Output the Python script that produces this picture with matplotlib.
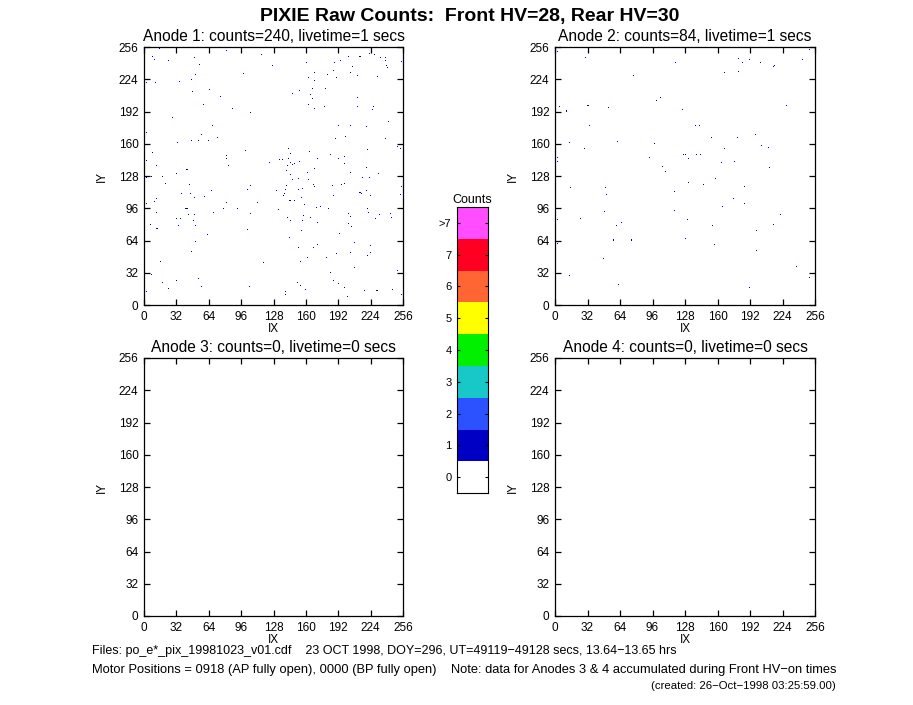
import numpy as np
import matplotlib
matplotlib.use('Agg')
import matplotlib.pyplot as plt
from matplotlib.colors import ListedColormap, BoundaryNorm

plt.rcParams['font.family'] = ['Liberation Sans', 'DejaVu Sans']

# pixel hits (IX, IY), one entry per count
anode1_ix = [
    15, 8, 10, 24, 49, 54, 81, 116, 127, 160, 188, 194, 202, 213, 222, 227, 233, 238, 238, 239,
    240, 254, 206, 204, 187, 181, 168, 211, 50, 98, 230, 2, 11, 35, 46, 162, 168, 190, 47, 64,
    166, 153, 146, 179, 164, 166, 211, 75, 58, 162, 168, 178, 211, 226, 225, 87, 105, 28, 241, 67,
    192, 204, 219, 2, 56, 199, 189, 238, 33, 46, 53, 63, 72, 250, 253, 100, 220, 142, 163, 8,
    144, 184, 81, 198, 81, 142, 171, 192, 133, 136, 2, 124, 144, 153, 148, 146, 141, 12, 83, 198,
    219, 168,
    2, 7, 18, 32, 42, 140, 144, 146, 152, 161, 162, 204, 215, 222, 231, 254, 21, 44, 105, 102,
    140, 139, 167, 168, 186, 195, 198, 66, 130, 138, 137, 152, 156, 213, 214, 219, 37, 45, 187, 223,
    254, 253, 2, 10, 12, 49, 59, 143, 144, 148, 155, 158, 81, 112, 41, 42, 78, 92, 170, 174,
    182, 220, 132, 12, 68, 105, 221, 43, 49, 157, 202, 204, 232, 243, 244, 32, 36, 141, 164, 144,
    48, 156, 171, 202, 228, 6, 34, 50, 205, 12, 13, 102, 155, 62, 193, 143, 50, 208, 152, 167,
    171, 223, 46, 204, 223, 190, 220, 161, 180, 16, 118, 154, 208, 250, 7, 184, 53, 187, 18, 32,
    151, 192, 154, 56, 104, 198, 24, 159, 245, 217, 229, 230, 2, 139, 139, 254, 201,
]
anode1_iy = [
    254, 246, 243, 242, 245, 238, 252, 248, 237, 240, 240, 242, 246, 246, 249, 248, 245, 245, 242, 237,
    235, 241, 236, 230, 232, 228, 230, 227, 228, 229, 226, 220, 220, 221, 223, 225, 222, 225, 211, 213,
    214, 212, 209, 214, 208, 204, 205, 206, 198, 198, 194, 196, 196, 196, 193, 194, 191, 186, 182, 178,
    178, 178, 177, 171, 169, 167, 165, 165, 161, 163, 163, 163, 166, 157, 155, 153, 154, 155, 152, 151,
    150, 149, 148, 147, 145, 145, 145, 145, 144, 144, 143, 141, 141, 142, 140, 139, 138, 138, 138, 140,
    136, 135,
    126, 127, 127, 130, 134, 133, 129, 124, 125, 131, 124, 131, 126, 126, 130, 127, 120, 119, 118, 114,
    118, 114, 119, 117, 118, 119, 120, 113, 113, 110, 108, 114, 115, 111, 110, 113, 110, 110, 108, 108,
    117, 109, 100, 102, 105, 106, 107, 103, 103, 103, 106, 99, 101, 101, 95, 95, 95, 95, 96, 97,
    95, 95, 94, 91, 91, 90, 91, 89, 89, 88, 90, 87, 89, 90, 86, 85, 85, 86, 86, 83,
    83, 83, 81, 80, 85, 79, 78, 78, 77, 75, 75, 74, 73, 69, 70, 66, 63, 62, 57, 57,
    60, 59, 53, 52, 52, 51, 49, 47, 47, 43, 42, 43, 37, 34, 30, 32, 26, 24, 22, 24,
    22, 21, 19, 18, 18, 17, 16, 15, 15, 14, 14, 14, 13, 13, 10, 10, 8,
]
anode2_ix = [
    2, 30, 250, 118, 180, 184, 191, 202, 216, 215, 243, 166, 180, 77, 103, 99, 4, 32, 52, 11,
    125, 227, 33, 138, 142, 154, 179, 197, 14, 61, 97, 203, 210, 29, 166, 126, 128, 139, 143, 2,
    93, 131, 2, 163, 176, 105, 211, 108, 158, 131, 146, 15, 49, 186, 50, 117, 175, 186, 164, 2,
    48, 117, 222, 25, 2, 130, 65, 60, 155, 215, 198, 57, 75, 128, 3, 2, 157, 198, 47, 237,
    14, 250, 62, 191,
]
anode2_iy = [
    251, 245, 253, 240, 244, 240, 243, 240, 237, 236, 243, 230, 231, 227, 205, 202, 196, 197, 195, 192,
    193, 197, 178, 178, 178, 166, 166, 169, 161, 162, 160, 158, 156, 155, 155, 149, 149, 149, 149, 146,
    146, 145, 142, 141, 142, 137, 136, 132, 125, 121, 119, 116, 116, 117, 109, 112, 105, 100, 97, 95,
    92, 93, 89, 85, 84, 84, 81, 78, 78, 79, 73, 64, 64, 65, 63, 61, 60, 54, 46, 38,
    29, 27, 20, 17,
]

panel_titles = [
    'Anode 1: counts=240, livetime=1 secs',
    'Anode 2: counts=84, livetime=1 secs',
    'Anode 3: counts=0, livetime=0 secs',
    'Anode 4: counts=0, livetime=0 secs',
]
tick_vals = [0, 32, 64, 96, 128, 160, 192, 224, 256]
cbar_labels = ['0', '1', '2', '3', '4', '5', '6', '7', '>7']
cbar_colors = ['#FFFFFF', '#0000C4', '#2C52FF', '#18C8C8', '#00F000',
               '#FFFF00', '#FF6633', '#FF0022', '#FF4DFF']

W, H = 913, 705


def to_image(ix, iy):
    img = np.zeros((256, 256))
    np.add.at(img, (np.array(iy, dtype=int), np.array(ix, dtype=int)), 1)
    return np.clip(img, 0, 8)


def frac(x0, y0, x1, y1):
    # pixel box (top-left, bottom-right) -> figure fraction rect
    return [x0 / W, 1 - y1 / H, (x1 - x0) / W, (y1 - y0) / H]


cmap = ListedColormap(cbar_colors)
norm = BoundaryNorm(np.arange(-0.5, 9.5, 1.0), cmap.N)

images = [to_image(anode1_ix, anode1_iy), to_image(anode2_ix, anode2_iy),
          np.zeros((256, 256)), np.zeros((256, 256))]
boxes = [(144, 47, 403, 305), (555, 47, 815, 305),
         (144, 358, 403, 616), (555, 358, 815, 616)]

fig = plt.figure(figsize=(W / 100, H / 100), dpi=100)

for img, box, title in zip(images, boxes, panel_titles):
    ax = fig.add_axes(frac(*box))
    ax.imshow(img, origin='lower', extent=(0, 256, 0, 256), cmap=cmap, norm=norm,
              interpolation='nearest', aspect='auto')
    ax.set_xlim(0, 256)
    ax.set_ylim(0, 256)
    ax.set_xticks(tick_vals)
    ax.set_yticks(tick_vals)
    ax.tick_params(direction='in', length=4.5, width=0.9, labelsize=8.5,
                   top=True, right=True, pad=4)
    for s in ax.spines.values():
        s.set_linewidth(0.9)
    ax.set_title(title, fontsize=11.2, pad=4)
    ax.set_xlabel('IX', fontsize=8.5, labelpad=0)
    ax.set_ylabel('IY', fontsize=8.5, labelpad=8)

# colour bar
cax = fig.add_axes(frac(457, 207, 488, 493))
cax.imshow(np.arange(9).reshape(-1, 1), origin='lower', extent=(0, 1, -0.5, 8.5),
           cmap=cmap, norm=norm, aspect='auto', interpolation='nearest')
cax.set_xlim(0, 1)
cax.set_ylim(-0.5, 8.5)
cax.set_xticks([])
cax.set_yticks(range(9))
cax.set_yticklabels(cbar_labels)
cax.tick_params(direction='in', length=2.5, width=0.8, labelsize=8, right=True, pad=4)
cax.set_title('Counts', fontsize=9, pad=3)

fig.text(470 / W, 1 - 16 / H, 'PIXIE Raw Counts:  Front HV=28, Rear HV=30',
         ha='center', va='center', fontsize=14, fontweight='bold')
fig.text(92 / W, 1 - 651 / H,
         'Files: po_e*_pix_19981023_v01.cdf    23 OCT 1998, DOY=296, UT=49119\u221249128 secs, 13.64\u221213.65 hrs',
         ha='left', va='center', fontsize=9.0)
fig.text(92 / W, 1 - 670 / H,
         'Motor Positions = 0918 (AP fully open), 0000 (BP fully open)    '
         'Note: data for Anodes 3 & 4 accumulated during Front HV\u2212on times',
         ha='left', va='center', fontsize=9.3)
fig.text(651 / W, 1 - 686 / H, '(created: 26\u2212Oct\u22121998 03:25:59.00)',
         ha='left', va='center', fontsize=8.2)

fig.savefig('out.png', dpi=100)
